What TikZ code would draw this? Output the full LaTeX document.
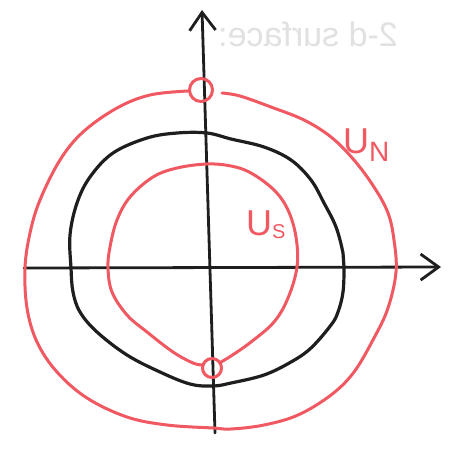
\documentclass[tikz,border=0pt]{standalone}
\usepackage{fontspec}
\setmainfont{Liberation Sans}
\usetikzlibrary{arrows.meta}
\definecolor{pen}{RGB}{30,30,30}
\definecolor{redpen}{RGB}{240,88,98}
\definecolor{ghost}{RGB}{225,225,225}
\tikzset{
  axis/.style={pen, line width=2.8pt, line cap=round, -{Straight Barb[length=18pt,width=26pt,line width=2.8pt]}},
  blackcurve/.style={pen, line width=3.2pt, line cap=round, line join=round},
  redcurve/.style={redpen, line width=3pt, line cap=round, line join=round},
  label/.style={text=redpen, inner sep=0pt, font=\fontsize{36}{36}\selectfont},
}
\begin{document}
\begin{tikzpicture}[x=1pt,y=-1pt]
\useasboundingbox[fill=white] (0,0) rectangle (462,450);
% ghost bleed-through text
\node[text=ghost, xscale=-1, font=\fontsize{34}{34}\selectfont] (ghosttext) at (308,34) {2-d surface:};
% axes
\coordinate (xs) at (24,268);
\coordinate (xe) at (441,267);
\coordinate (ys) at (215,433);
\coordinate (ye) at (202,10);
\draw[axis] (xs) -- (xe);
\draw[axis] (ys) -- (ye);
% black curve
\draw[blackcurve] plot[smooth cycle, tension=0.6] coordinates {
 (207,133) (177,133) (147,138) (113,153) (90,177) (77,203) (70,235) (71,268)
 (73,292) (80,312) (97,332) (127,355) (160,372) (190,384) (213,386) (231,383)
 (264,375) (291,362) (311,348) (331,325) (338,312) (343,292) (344,267)
 (343,253) (336,227) (324,203) (311,180) (291,160) (264,147) (231,139)};
% outer red U_N
\node[draw=redpen, line width=3pt, circle, minimum size=23pt, inner sep=0pt] (cn) at (201,90) {};
\draw[redcurve] plot[smooth, tension=0.6] coordinates {
 (188,91) (150,95) (117,108) (83,132) (60,160) (40,200) (30,233) (25,268)
 (27,308) (37,342) (57,372) (87,398) (127,417) (167,425) (213,428) (231,429)
 (264,425) (298,415) (331,395) (354,372) (374,338) (388,308) (396,272)
 (394,240) (388,213) (374,187) (354,160) (331,137) (304,120) (271,107) (240,96) (222,93)};
% inner red U_S
\node[draw=redpen, line width=3pt, circle, minimum size=19pt, inner sep=0pt] (cs) at (212,368) {};
\draw[redcurve] plot[smooth, tension=0.6] coordinates {
 (203,365) (193,363) (173,352) (147,332) (127,315) (112,292) (108,268)
 (110,247) (117,220) (130,197) (153,177) (177,168) (207,164) (231,166)
 (251,173) (274,190) (288,210) (296,237) (297,267) (288,298) (274,322)
 (251,342) (231,356) (221,362)};
% labels
\node[label, anchor=base west] (un) at (343,153) {U\raisebox{-8pt}{\fontsize{28}{28}\selectfont N}};
\node[label, anchor=base west] (us) at (246,235) {U\raisebox{-3pt}{\fontsize{20}{20}\selectfont S}};
\end{tikzpicture}
\end{document}
